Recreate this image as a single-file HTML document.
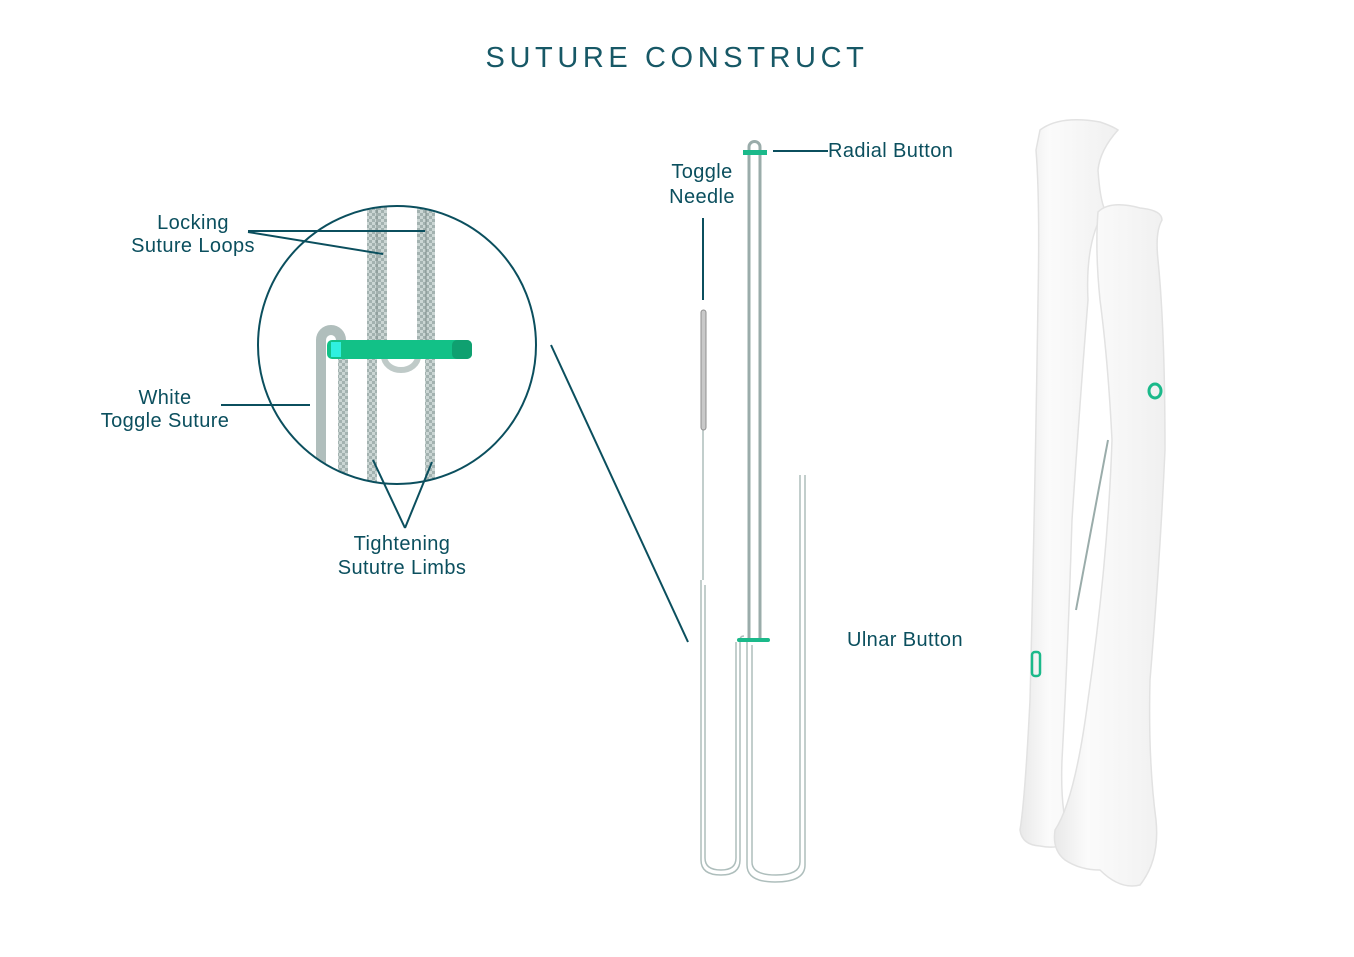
<!DOCTYPE html>
<html><head><meta charset="utf-8"><style>
body{margin:0;background:#fff;}
svg{display:block;}
text{font-family:"Liberation Sans",sans-serif;fill:#0b4f5e;}
</style></head><body>
<svg width="1354" height="957" viewBox="0 0 1354 957" xmlns="http://www.w3.org/2000/svg">
<defs>
<clipPath id="cc"><circle cx="397" cy="345" r="139"/></clipPath>
<pattern id="braid" width="6" height="6" patternUnits="userSpaceOnUse">
<rect width="6" height="6" fill="#a3b2b0"/><rect x="0" y="0" width="3" height="3" fill="#cbd6d4"/><rect x="3" y="3" width="3" height="3" fill="#cbd6d4"/>
</pattern>
<linearGradient id="bone" x1="0" x2="1"><stop offset="0" stop-color="#e9e9e9"/><stop offset="0.3" stop-color="#fbfbfb"/><stop offset="1" stop-color="#f0f0f0"/></linearGradient>
</defs>
<text x="677" y="67" text-anchor="middle" font-size="29" letter-spacing="4.6" style="font-weight:100" fill-opacity="0.95">SUTURE CONSTRUCT</text>

<g clip-path="url(#cc)">
<rect x="367" y="200" width="10" height="150" fill="url(#braid)"/>
<rect x="377" y="200" width="10" height="150" fill="url(#braid)"/>
<line x1="377" y1="200" x2="377" y2="350" stroke="#7f8f8d" stroke-width="1"/>
<rect x="417" y="200" width="9" height="150" fill="url(#braid)"/>
<rect x="426" y="200" width="9" height="150" fill="url(#braid)"/>
<line x1="426" y1="200" x2="426" y2="350" stroke="#7f8f8d" stroke-width="1"/>
<path d="M321 490 V340 a10 10 0 0 1 20 0" fill="none" stroke="#b0bebc" stroke-width="10"/>
<rect x="338" y="350" width="10" height="140" fill="url(#braid)"/>
<rect x="367" y="355" width="10" height="135" fill="url(#braid)"/>
<rect x="425" y="355" width="10" height="135" fill="url(#braid)"/>
<path d="M384 356 a17 14 0 0 0 34 0" fill="none" stroke="#bfcac8" stroke-width="6"/>
<rect x="327" y="340" width="145" height="19" rx="5" fill="#12c187"/>
<rect x="331" y="342" width="10" height="15" fill="#2ff0e0"/>
<rect x="452" y="340" width="20" height="19" rx="5" fill="#0fa070"/>
</g>
<circle cx="397" cy="345" r="139" fill="none" stroke="#0b4f5e" stroke-width="2"/>

<g stroke="#0b4f5e" stroke-width="2" fill="none">
<line x1="248" y1="231" x2="425" y2="231"/>
<line x1="248" y1="232" x2="383" y2="254"/>
<line x1="221" y1="405" x2="310" y2="405"/>
<line x1="405" y1="528" x2="373" y2="460"/>
<line x1="405" y1="528" x2="432" y2="462"/>
<line x1="551" y1="345" x2="688" y2="642"/>
<line x1="773" y1="151" x2="828" y2="151"/>
<line x1="703" y1="218" x2="703" y2="300"/>
</g>

<g fill="none" stroke="#aebebc" stroke-width="1.5">
<path d="M701 580 V860 q0 15 20 15 q19 0 19 -15 V640 q0 -4 4 -4"/>
<path d="M705 585 V858 q0 12 16 12 q15 0 15 -12 V642"/>
<path d="M747 640 V865 q0 17 28 17 q30 0 30 -17 V475"/>
<path d="M752 645 V862 q0 13 24 13 q24 0 24 -13 V475"/>
<line x1="703" y1="430" x2="703" y2="580"/>
</g>
<g stroke="#9aacaa" stroke-width="3">
<line x1="749" y1="150" x2="749" y2="640"/>
<line x1="760" y1="150" x2="760" y2="640"/>
</g>
<path d="M749 152 v-5 a5.5 5.5 0 0 1 11 0 v5" fill="none" stroke="#9aacaa" stroke-width="3"/>
<rect x="743" y="150" width="24" height="5" fill="#1bb98a"/>
<rect x="737" y="638" width="33" height="4" rx="2" fill="#1bb98a"/>
<rect x="701" y="310" width="5" height="120" rx="2.5" fill="#c9c9c9" stroke="#8f8f8f" stroke-width="1"/>

<g font-size="20" text-anchor="middle" letter-spacing="0.4">
<text x="193" y="229">Locking</text>
<text x="193" y="252">Suture Loops</text>
<text x="165" y="404">White</text>
<text x="165" y="427">Toggle Suture</text>
<text x="402" y="550">Tightening</text>
<text x="402" y="574">Sututre Limbs</text>
<text x="702" y="178">Toggle</text>
<text x="702" y="203">Needle</text>
<text x="828" y="157" text-anchor="start">Radial Button</text>
<text x="847" y="646" text-anchor="start">Ulnar Button</text>
</g>

<g stroke="#e2e2e2" stroke-width="1.5" fill="url(#bone)">
<path d="M1040 130 Q1060 115 1100 122 Q1112 126 1118 130 Q1100 150 1098 170 Q1100 200 1105 210 Q1085 240 1088 300 Q1080 400 1072 520 Q1068 650 1062 760 Q1060 810 1070 840 Q1060 850 1040 846 Q1022 845 1020 830 Q1025 800 1030 700 Q1035 500 1038 300 Q1040 200 1036 150 Z"/>
<path d="M1098 212 Q1110 200 1140 208 Q1162 210 1162 220 Q1155 232 1158 260 Q1165 330 1165 450 Q1160 560 1150 680 Q1148 760 1156 820 Q1160 860 1140 885 Q1120 890 1100 870 Q1080 870 1065 860 Q1052 850 1055 830 Q1075 800 1088 700 Q1108 560 1112 440 Q1108 360 1100 300 Q1095 250 1098 212 Z"/>
</g>
<line x1="1108" y1="440" x2="1076" y2="610" stroke="#9aacaa" stroke-width="2"/>
<ellipse cx="1155" cy="391" rx="6" ry="7" fill="none" stroke="#1bb98a" stroke-width="3"/>
<rect x="1032" y="652" width="8" height="24" rx="3" fill="none" stroke="#1bb98a" stroke-width="2.5"/>
</svg>
</body></html>
